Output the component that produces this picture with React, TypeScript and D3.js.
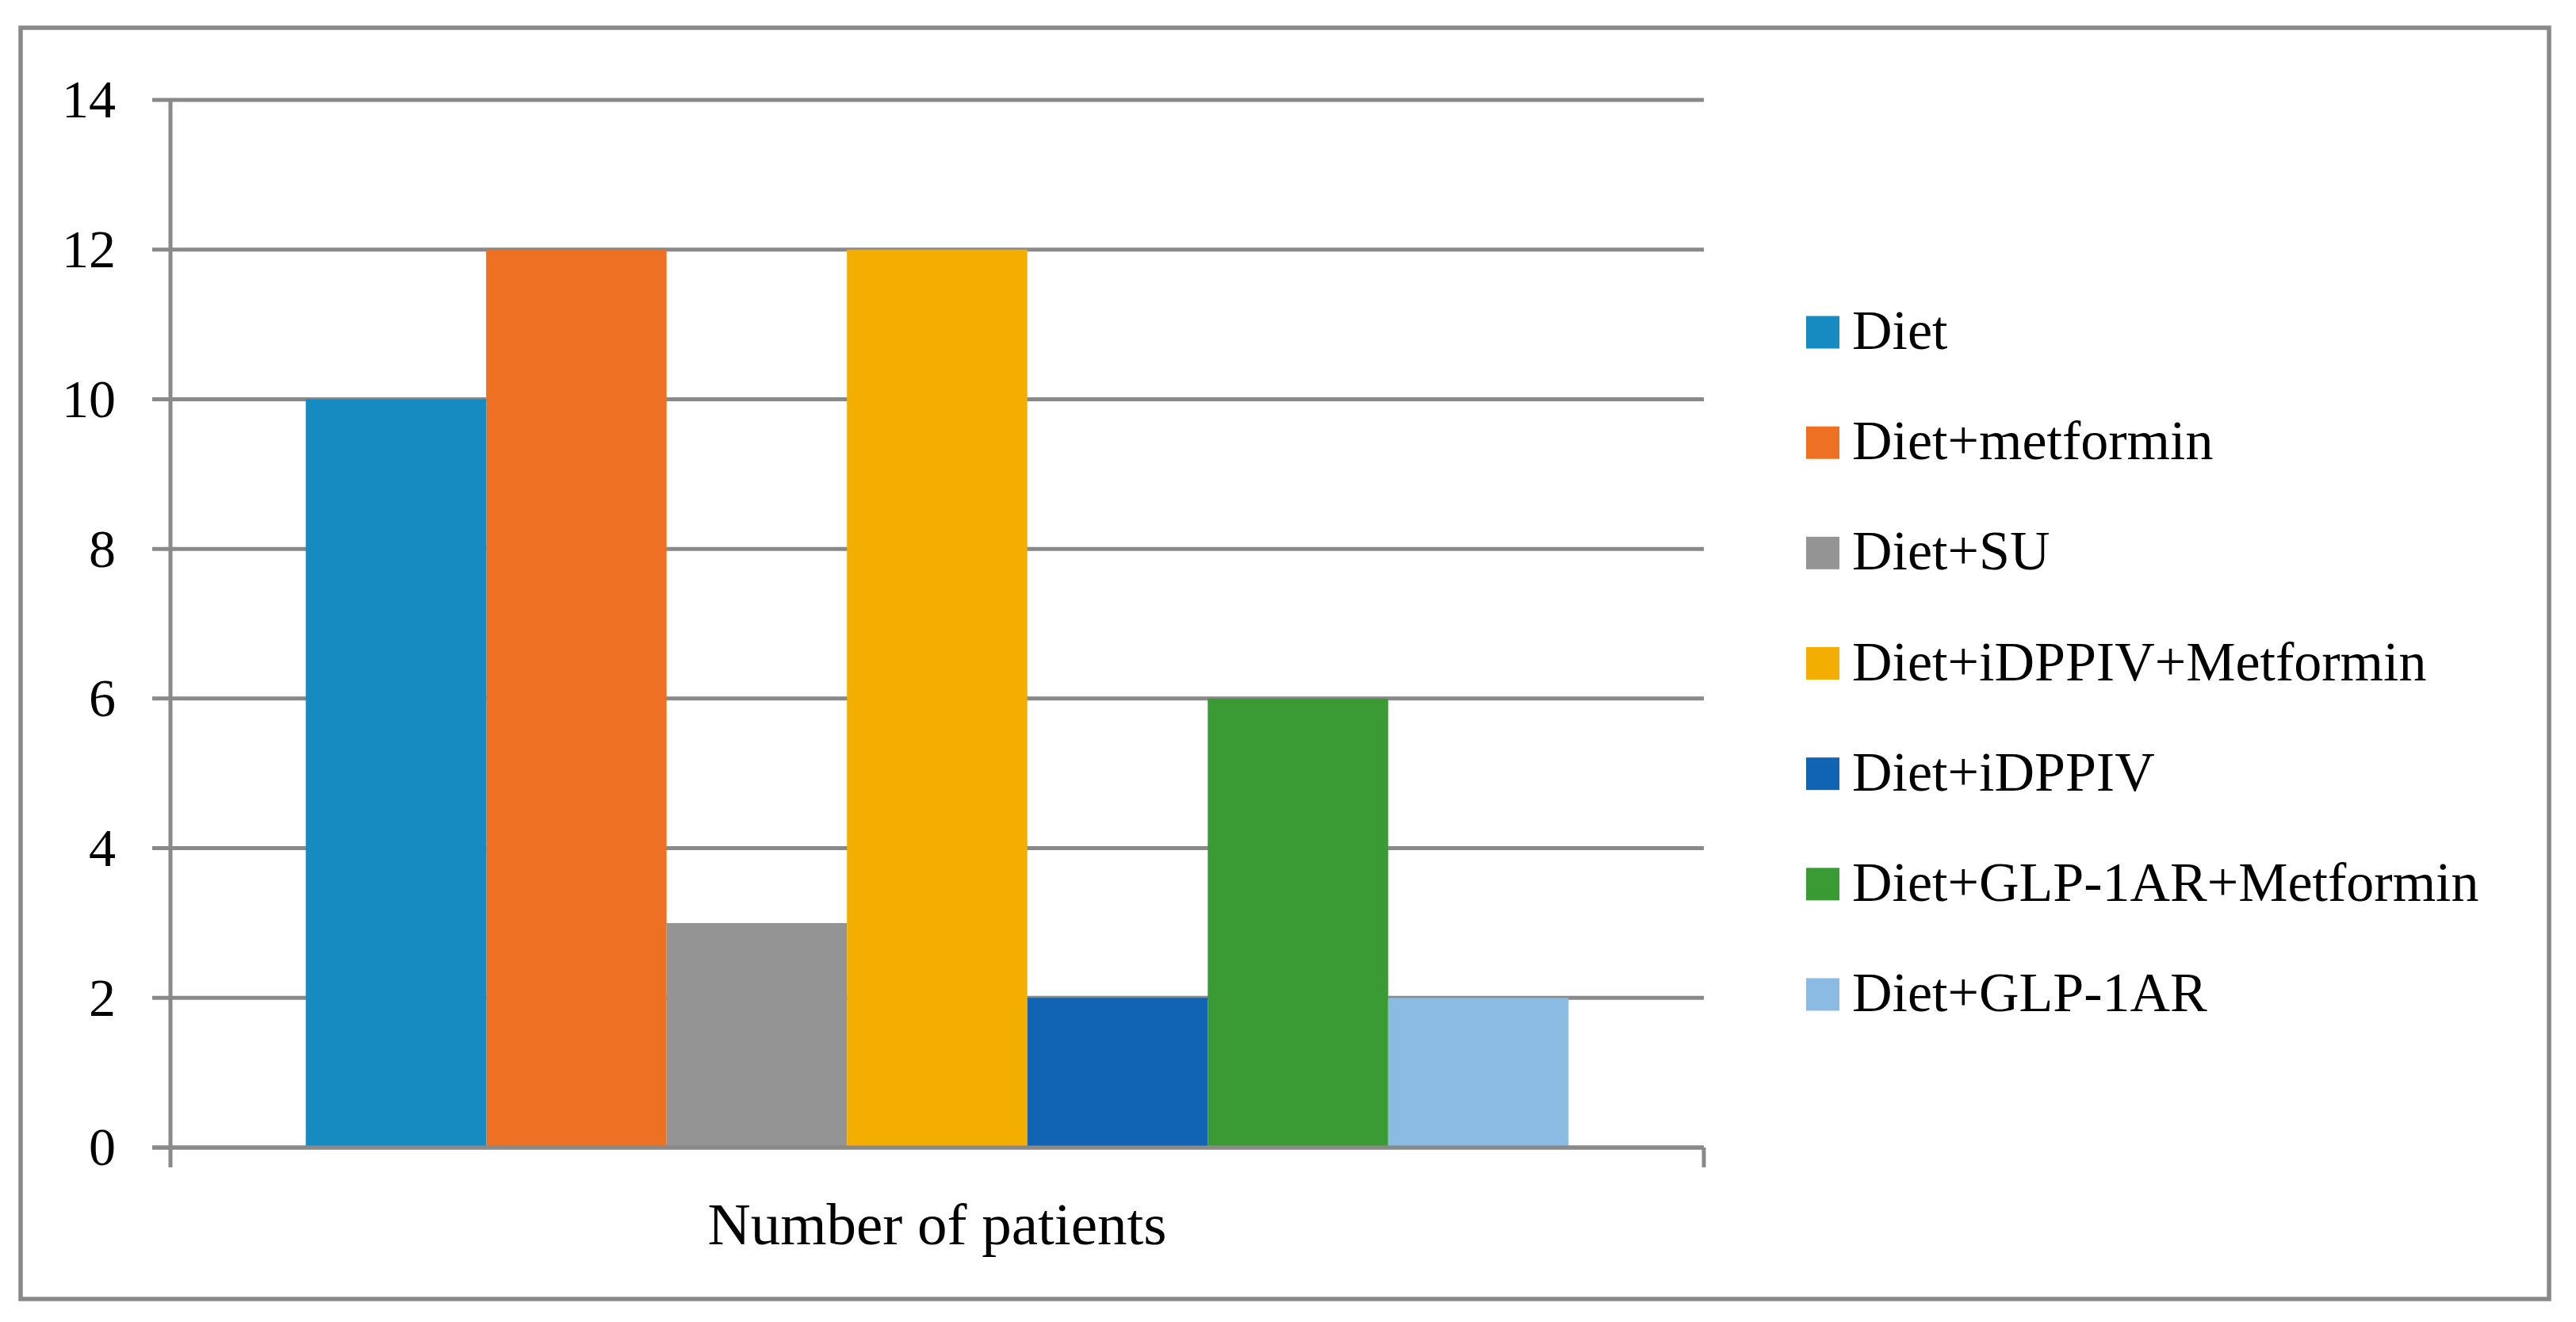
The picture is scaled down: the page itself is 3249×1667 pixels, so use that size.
import React, { useEffect } from 'react';
import * as d3 from 'd3';

const categories = ['Number of patients'];
const seriesNames = [
  'Diet',
  'Diet+metformin',
  'Diet+SU',
  'Diet+iDPPIV+Metformin',
  'Diet+iDPPIV',
  'Diet+GLP-1AR+Metformin',
  'Diet+GLP-1AR',
];
const seriesValues = [10, 12, 3, 12, 2, 6, 2];
const seriesColors = ['#168bc1', '#ee7022', '#949494', '#f4ae01', '#1164b4', '#3a9a33', '#8bbbe3'];
const yTicks = [0, 2, 4, 6, 8, 10, 12, 14];

const W = 3249;
const H = 1667;
const plot = { left: 215, right: 2149, top: 126, bottom: 1447 };
const grid = '#898989';
const font = '"Liberation Serif", "Times New Roman", serif';

const App: React.FC = () => {
  useEffect(() => {
    document.body.style.margin = '0';
  }, []);

  const x = d3.scaleBand<string>().domain(categories).range([plot.left, plot.right]);
  const xs = d3
    .scaleBand<string>()
    .domain(seriesNames)
    .range([0, x.bandwidth()])
    .paddingInner(0)
    .paddingOuter(0.75);
  const y = d3.scaleLinear().domain([0, 14]).range([plot.bottom, plot.top]);

  const legendX = 2278;
  const legendY = d3.scalePoint<string>().domain(seriesNames).range([419, 1254]);

  return (
    <svg width={W} height={H} style={{ display: 'block', background: '#fff' }}>
      <rect x={26} y={35} width={3189} height={1603} fill="#fff" stroke={grid} strokeWidth={5.5} />

      {/* gridlines */}
      {yTicks.map((t) => (
        <line key={t} x1={plot.left - 23} x2={plot.right} y1={y(t)} y2={y(t)} stroke={grid} strokeWidth={5} />
      ))}

      {/* bars */}
      {categories.map((c) => (
        <g key={c} transform={`translate(${x(c)},0)`}>
          {seriesNames.map((s, i) => (
            <rect
              key={s}
              x={xs(s)}
              y={y(seriesValues[i])}
              width={xs.bandwidth()}
              height={y(0) - y(seriesValues[i])}
              fill={seriesColors[i]}
            />
          ))}
        </g>
      ))}

      {/* axes */}
      <line x1={plot.left} x2={plot.left} y1={plot.top} y2={plot.bottom + 25} stroke={grid} strokeWidth={5} />
      <line x1={plot.right} x2={plot.right} y1={plot.bottom} y2={plot.bottom + 25} stroke={grid} strokeWidth={5} />
      <line x1={plot.left - 23} x2={plot.right} y1={y(0)} y2={y(0)} stroke={grid} strokeWidth={5} />

      {yTicks.map((t) => (
        <text
          key={t}
          x={146}
          y={y(t)}
          dy="0.33em"
          textAnchor="end"
          fontFamily={font}
          fontSize={68}
          fill="#000"
        >
          {t}
        </text>
      ))}

      {categories.map((c) => (
        <text
          key={c}
          x={(x(c) ?? 0) + x.bandwidth() / 2}
          y={1569}
          textAnchor="middle"
          fontFamily={font}
          fontSize={75}
          fill="#000"
        >
          {c}
        </text>
      ))}

      {/* legend */}
      {seriesNames.map((s, i) => (
        <g key={s} transform={`translate(${legendX},${legendY(s)})`}>
          <rect x={0} y={-20.5} width={42} height={41} fill={seriesColors[i]} />
          <text x={58} y={0} dy="0.3em" fontFamily={font} fontSize={70} fill="#000">
            {s}
          </text>
        </g>
      ))}
    </svg>
  );
};

export default App;
